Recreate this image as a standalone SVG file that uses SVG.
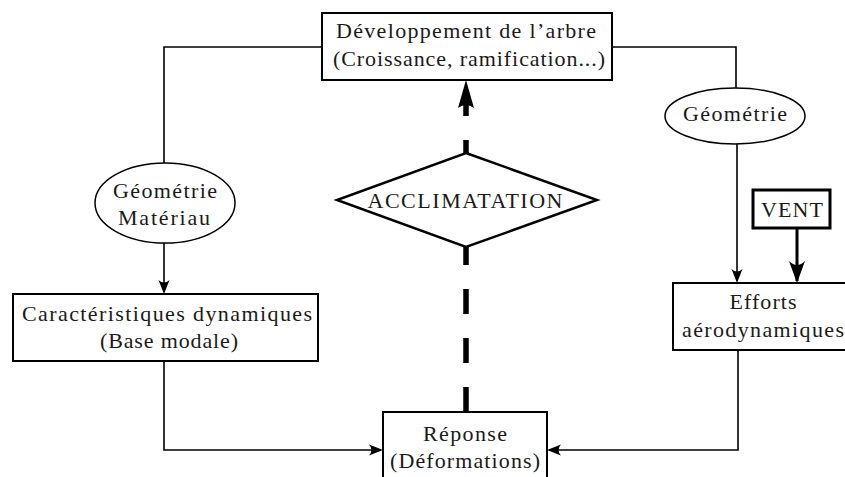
<svg xmlns="http://www.w3.org/2000/svg" width="845" height="477" viewBox="0 0 845 477">
<style>
.box{fill:#fff;stroke:#000;stroke-width:2}
.ell{fill:#fff;stroke:#000;stroke-width:1.5}
.ln{fill:none;stroke:#000;stroke-width:1.6}
.t{font-family:"Liberation Serif","DejaVu Serif",serif;font-size:22px;fill:#1a1a1a;text-anchor:middle}
</style>
<defs>
<marker id="ah" markerUnits="userSpaceOnUse" viewBox="-14 -6 16 12" refX="0" refY="0" markerWidth="16" markerHeight="12" orient="auto">
<path d="M2,0 L-12,-5.5 Q-7,0 -12,5.5 Z" fill="#000"/>
</marker>
<marker id="ahb" markerUnits="userSpaceOnUse" viewBox="-22 -9 25 18" refX="0" refY="0" markerWidth="25" markerHeight="18" orient="auto">
<path d="M2,0 L-20,-8 Q-12,0 -20,8 Z" fill="#000"/>
</marker>
</defs>
<rect width="845" height="477" fill="#fff"/>
<g id="connectors">
<polyline class="ln" points="322,47 164,47 164,163"/>
<polyline class="ln" points="612,47 736,47 736,88"/>
<line class="ln" x1="164" y1="243" x2="164" y2="292" marker-end="url(#ah)"/>
<line class="ln" x1="737" y1="144" x2="737" y2="281" marker-end="url(#ah)"/>
<line x1="797" y1="228" x2="797" y2="281" stroke="#000" stroke-width="3" marker-end="url(#ahb)"/>
<polyline class="ln" points="164,361 164,450 381,450" marker-end="url(#ah)"/>
<polyline class="ln" points="738,350 738,450 549,450" marker-end="url(#ah)"/>
<line x1="466" y1="412" x2="466" y2="247" stroke="#000" stroke-width="5.5" stroke-dasharray="25 24"/>
<line x1="466" y1="153" x2="466" y2="140" stroke="#000" stroke-width="5.5"/>
<line x1="466" y1="116" x2="466" y2="100" stroke="#000" stroke-width="5.5"/>
<path d="M466,80 L458,108 Q466,102 474,108 Z" fill="#000"/>
</g>
<g id="dev">
<rect class="box" x="322" y="13" width="290" height="67"/>
<text class="t" x="466" y="38" textLength="260">Développement de l’arbre</text>
<text class="t" x="469" y="66" textLength="272">(Croissance, ramification...)</text>
</g>
<g id="acclimatation">
<polygon points="466,153 597,200 466,247 337,200" fill="#fff" stroke="#000" stroke-width="2.5"/>
<text class="t" x="465" y="208" textLength="195">ACCLIMATATION</text>
</g>
<g id="geomat">
<ellipse class="ell" cx="165" cy="203" rx="70" ry="40"/>
<text class="t" x="165" y="198" textLength="104">Géométrie</text>
<text class="t" x="164" y="225" textLength="92">Matériau</text>
</g>
<g id="geo">
<ellipse class="ell" cx="735" cy="116" rx="70" ry="28"/>
<text class="t" x="735" y="121" textLength="104">Géométrie</text>
</g>
<g id="carac">
<rect class="box" x="13" y="294" width="305" height="67"/>
<text class="t" x="167" y="321" textLength="290">Caractéristiques dynamiques</text>
<text class="t" x="169" y="348" textLength="138">(Base modale)</text>
</g>
<g id="vent">
<rect x="753" y="190" width="77" height="38" fill="#fff" stroke="#000" stroke-width="3"/>
<text class="t" x="792" y="217" textLength="62">VENT</text>
</g>
<g id="efforts">
<rect class="box" x="673" y="283" width="180" height="67"/>
<text class="t" x="763" y="309" textLength="67">Efforts</text>
<text class="t" x="763" y="337" textLength="162">aérodynamiques</text>
</g>
<g id="reponse">
<rect class="box" x="383" y="412" width="164" height="75"/>
<text class="t" x="465" y="441" textLength="84">Réponse</text>
<text class="t" x="465" y="468" textLength="150">(Déformations)</text>
</g>
</svg>
